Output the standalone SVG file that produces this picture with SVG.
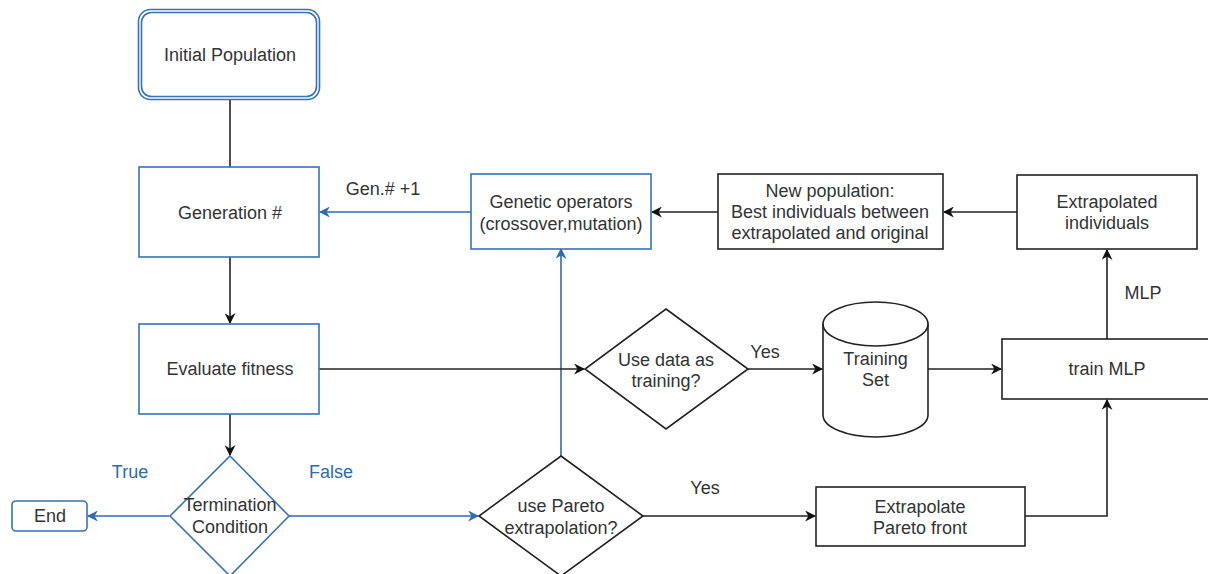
<svg xmlns="http://www.w3.org/2000/svg" width="1208" height="574" viewBox="0 0 1208 574">
  <style>
    text { font-family: "Liberation Sans", Arial, sans-serif; font-size: 18px; fill: #333; text-anchor: middle; dominant-baseline: central; }
    .lbl-blue { fill: #2f6ab0; }
    .box-blue { fill: #fff; stroke: #3572b9; stroke-width: 1.6; }
    .box-black { fill: #fff; stroke: #222; stroke-width: 1.6; }
    .edge-black { fill: none; stroke: #222; stroke-width: 1.6; }
    .edge-blue { fill: none; stroke: #2f6ab0; stroke-width: 1.6; }
  </style>
  <defs>
    <marker id="arrow-black" viewBox="0 0 10 10" refX="9" refY="5" markerWidth="11" markerHeight="11" markerUnits="userSpaceOnUse" orient="auto">
      <path d="M0,0 L10,5 L0,10 L3,5 z" fill="#111"/>
    </marker>
    <marker id="arrow-blue" viewBox="0 0 10 10" refX="9" refY="5" markerWidth="11" markerHeight="11" markerUnits="userSpaceOnUse" orient="auto">
      <path d="M0,0 L10,5 L0,10 L3,5 z" fill="#2f6ab0"/>
    </marker>
  </defs>
  <rect width="1208" height="574" fill="#fff"/>

  <!-- connectors -->
  <g id="connectors">
    <path class="edge-black" d="M230,99 L230,167"/>
    <path class="edge-black" d="M230,257 L230,323" marker-end="url(#arrow-black)"/>
    <path class="edge-black" d="M230,414 L230,455" marker-end="url(#arrow-black)"/>
    <path class="edge-blue" d="M169,516 L88,516" marker-end="url(#arrow-blue)"/>
    <path class="edge-blue" d="M289,516 L478,516" marker-end="url(#arrow-blue)"/>
    <path class="edge-blue" d="M561,456 L561,249" marker-end="url(#arrow-blue)"/>
    <path class="edge-blue" d="M471,212 L320,212" marker-end="url(#arrow-blue)"/>
    <path class="edge-black" d="M718,212 L652,212" marker-end="url(#arrow-black)"/>
    <path class="edge-black" d="M1017,212 L944,212" marker-end="url(#arrow-black)"/>
    <path class="edge-black" d="M1107,339 L1107,250" marker-end="url(#arrow-black)"/>
    <path class="edge-black" d="M319,369 L584,369" marker-end="url(#arrow-black)"/>
    <path class="edge-black" d="M748,369 L822,369" marker-end="url(#arrow-black)"/>
    <path class="edge-black" d="M928,369 L1001,369" marker-end="url(#arrow-black)"/>
    <path class="edge-black" d="M643,516 L815,516" marker-end="url(#arrow-black)"/>
    <path class="edge-black" d="M1025,516 L1107,516 L1107,400" marker-end="url(#arrow-black)"/>
    <text x="383" y="189">Gen.# +1</text>
    <text class="lbl-blue" x="130" y="472">True</text>
    <text class="lbl-blue" x="331" y="472">False</text>
    <text x="765" y="352">Yes</text>
    <text x="705" y="488">Yes</text>
    <text x="1143" y="293">MLP</text>
  </g>

  <g id="initial-population">
    <rect class="box-blue" x="138.5" y="9.5" width="181" height="90" rx="12"/>
    <rect x="141.5" y="12.5" width="175" height="84" rx="10" fill="none" stroke="#3572b9" stroke-width="1.6"/>
    <text x="230" y="55">Initial Population</text>
  </g>

  <g id="generation">
    <rect class="box-blue" x="139" y="167" width="180" height="90"/>
    <text x="230" y="213">Generation #</text>
  </g>

  <g id="evaluate-fitness">
    <rect class="box-blue" x="139" y="324" width="180" height="90"/>
    <text x="230" y="369">Evaluate fitness</text>
  </g>

  <g id="termination">
    <path class="box-blue" d="M230,456 L289,516 L230,576 L170,516 Z"/>
    <text x="230" y="505">Termination</text>
    <text x="230" y="527">Condition</text>
  </g>

  <g id="end">
    <rect class="box-blue" x="12" y="501" width="75" height="30" rx="4"/>
    <text x="50" y="516">End</text>
  </g>

  <g id="pareto-decision">
    <path class="box-black" d="M561,456 L643,516 L561,576 L479,516 Z"/>
    <text x="561" y="506">use Pareto</text>
    <text x="561" y="528">extrapolation?</text>
  </g>

  <g id="genetic-operators">
    <rect class="box-blue" x="471" y="174" width="180" height="75"/>
    <text x="561" y="202">Genetic operators</text>
    <text x="561" y="224">(crossover,mutation)</text>
  </g>

  <g id="new-population">
    <rect class="box-black" x="718" y="174" width="225" height="75"/>
    <text x="830" y="191">New population:</text>
    <text x="830" y="212">Best individuals between</text>
    <text x="830" y="233">extrapolated and original</text>
  </g>

  <g id="extrapolated-individuals">
    <rect class="box-black" x="1017" y="175" width="180" height="74"/>
    <text x="1107" y="202">Extrapolated</text>
    <text x="1107" y="223">individuals</text>
  </g>

  <g id="use-data-decision">
    <path class="box-black" d="M666,309 L748,369 L666,429 L585,369 Z"/>
    <text x="666" y="360">Use data as</text>
    <text x="666" y="381">training?</text>
  </g>

  <g id="training-set">
    <path class="box-black" d="M823,324 L823,415 A52.5,22 0 0 0 928,415 L928,324 A52.5,22 0 0 0 823,324 Z"/>
    <path fill="none" stroke="#222" stroke-width="1.6" d="M823,324 A52.5,22 0 0 0 928,324"/>
    <text x="875.5" y="359">Training</text>
    <text x="875.5" y="380">Set</text>
  </g>

  <g id="train-mlp">
    <rect class="box-black" x="1002" y="339" width="210" height="60"/>
    <text x="1107" y="369">train MLP</text>
  </g>

  <g id="extrapolate-pareto">
    <rect class="box-black" x="816" y="487" width="209" height="59"/>
    <text x="920" y="507">Extrapolate</text>
    <text x="920" y="528">Pareto front</text>
  </g>
</svg>
